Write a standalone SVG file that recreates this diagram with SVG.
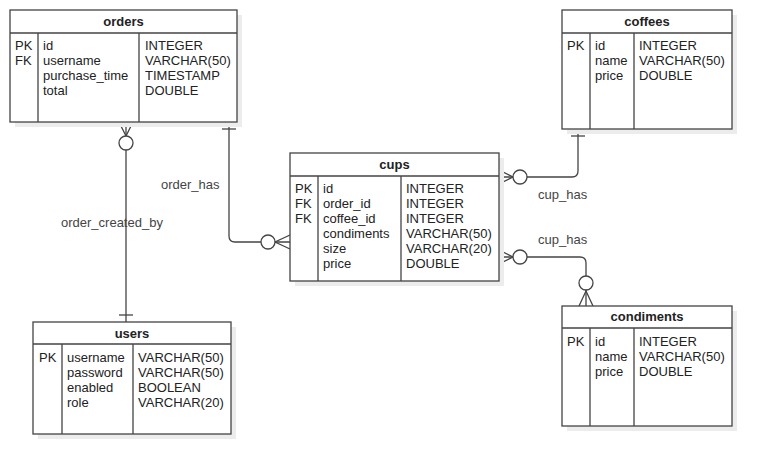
<svg xmlns="http://www.w3.org/2000/svg" width="771" height="474" viewBox="0 0 771 474">
<style>
.sh{fill:#ececec;stroke:none}
.box{fill:#fff;stroke:#444;stroke-width:1.3}
.ln{fill:none;stroke:#444;stroke-width:1.3}
.t{font-family:"Liberation Sans",Arial,sans-serif;font-size:13px;fill:#222}
.h{font-family:"Liberation Sans",Arial,sans-serif;font-size:13px;font-weight:bold;fill:#222;text-anchor:middle}
.lbl{font-family:"Liberation Sans",Arial,sans-serif;font-size:13px;fill:#444}
.c{fill:#fff;stroke:#444;stroke-width:1.3}
</style>
<rect width="771" height="474" fill="#fff"/>
<g id="connectors">
  <!-- orders -> users -->
  <path class="ln" d="M126,122 V322"/>
  <path class="ln" d="M119,122 L126,136 L133,122"/>
  <circle class="c" cx="126" cy="143" r="7"/>
  <path class="ln" d="M119,315 H133"/>
  <text class="lbl" x="61" y="227">order_created_by</text>
  <!-- orders -> cups -->
  <path class="ln" d="M229,122 V236 Q229,242 235,242 H290"/>
  <path class="ln" d="M222,129 H236"/>
  <path class="ln" d="M290,235 L275,242 L290,249"/>
  <circle class="c" cx="268" cy="242" r="7"/>
  <text class="lbl" x="161" y="189">order_has</text>
  <!-- cups -> coffees -->
  <path class="ln" d="M499,177 H572 Q578,177 578,171 V129"/>
  <path class="ln" d="M499,170 L513,177 L499,184"/>
  <circle class="c" cx="520" cy="177" r="7"/>
  <path class="ln" d="M571,136 H585"/>
  <text class="lbl" x="538" y="199">cup_has</text>
  <!-- cups -> condiments -->
  <path class="ln" d="M499,257 H580 Q586,257 586,263 V306"/>
  <path class="ln" d="M499,250 L513,257 L499,264"/>
  <circle class="c" cx="520" cy="257" r="7"/>
  <circle class="c" cx="586" cy="283" r="7"/>
  <path class="ln" d="M579,306 L586,291 L593,306"/>
  <text class="lbl" x="538" y="244">cup_has</text>
</g>
<g id="orders">
  <rect class="sh" x="15" y="15" width="227" height="112"/>
  <rect class="box" x="10" y="10" width="227" height="112"/>
  <path class="ln" d="M10,33 H237 M38,33 V122 M139,33 V122"/>
  <text class="h" x="123.5" y="26">orders</text>
  <text class="t" x="15" y="50">PK</text><text class="t" x="15" y="65">FK</text>
  <text class="t" x="43" y="50">id</text><text class="t" x="43" y="65">username</text><text class="t" x="43" y="80">purchase_time</text><text class="t" x="43" y="95">total</text>
  <text class="t" x="145" y="50">INTEGER</text><text class="t" x="145" y="65">VARCHAR(50)</text><text class="t" x="145" y="80">TIMESTAMP</text><text class="t" x="145" y="95">DOUBLE</text>
</g>
<g id="coffees">
  <rect class="sh" x="567" y="15" width="170" height="119"/>
  <rect class="box" x="562" y="10" width="170" height="119"/>
  <path class="ln" d="M562,33 H732 M590,33 V129 M634,33 V129"/>
  <text class="h" x="647" y="26">coffees</text>
  <text class="t" x="567" y="50">PK</text>
  <text class="t" x="595" y="50">id</text><text class="t" x="595" y="65">name</text><text class="t" x="595" y="80">price</text>
  <text class="t" x="639" y="50">INTEGER</text><text class="t" x="639" y="65">VARCHAR(50)</text><text class="t" x="639" y="80">DOUBLE</text>
</g>
<g id="cups">
  <rect class="sh" x="295" y="158" width="209" height="128"/>
  <rect class="box" x="290" y="153" width="209" height="128"/>
  <path class="ln" d="M290,176 H499 M318,176 V281 M401,176 V281"/>
  <text class="h" x="394.5" y="169">cups</text>
  <text class="t" x="295" y="193">PK</text><text class="t" x="295" y="208">FK</text><text class="t" x="295" y="223">FK</text>
  <text class="t" x="323" y="193">id</text><text class="t" x="323" y="208">order_id</text><text class="t" x="323" y="223">coffee_id</text><text class="t" x="323" y="238">condiments</text><text class="t" x="323" y="253">size</text><text class="t" x="323" y="268">price</text>
  <text class="t" x="406" y="193">INTEGER</text><text class="t" x="406" y="208">INTEGER</text><text class="t" x="406" y="223">INTEGER</text><text class="t" x="406" y="238">VARCHAR(50)</text><text class="t" x="406" y="253">VARCHAR(20)</text><text class="t" x="406" y="268">DOUBLE</text>
</g>
<g id="users">
  <rect class="sh" x="38" y="327" width="198" height="112"/>
  <rect class="box" x="33" y="322" width="198" height="112"/>
  <path class="ln" d="M33,344 H231 M62,344 V434 M133,344 V434"/>
  <text class="h" x="132" y="338">users</text>
  <text class="t" x="39" y="362">PK</text>
  <text class="t" x="67" y="362">username</text><text class="t" x="67" y="377">password</text><text class="t" x="67" y="392">enabled</text><text class="t" x="67" y="407">role</text>
  <text class="t" x="138" y="362">VARCHAR(50)</text><text class="t" x="138" y="377">VARCHAR(50)</text><text class="t" x="138" y="392">BOOLEAN</text><text class="t" x="138" y="407">VARCHAR(20)</text>
</g>
<g id="condiments">
  <rect class="sh" x="567" y="311" width="170" height="120"/>
  <rect class="box" x="562" y="306" width="170" height="120"/>
  <path class="ln" d="M562,328 H732 M590,328 V426 M634,328 V426"/>
  <text class="h" x="647" y="321">condiments</text>
  <text class="t" x="567" y="346">PK</text>
  <text class="t" x="595" y="346">id</text><text class="t" x="595" y="361">name</text><text class="t" x="595" y="376">price</text>
  <text class="t" x="639" y="346">INTEGER</text><text class="t" x="639" y="361">VARCHAR(50)</text><text class="t" x="639" y="376">DOUBLE</text>
</g>
</svg>
